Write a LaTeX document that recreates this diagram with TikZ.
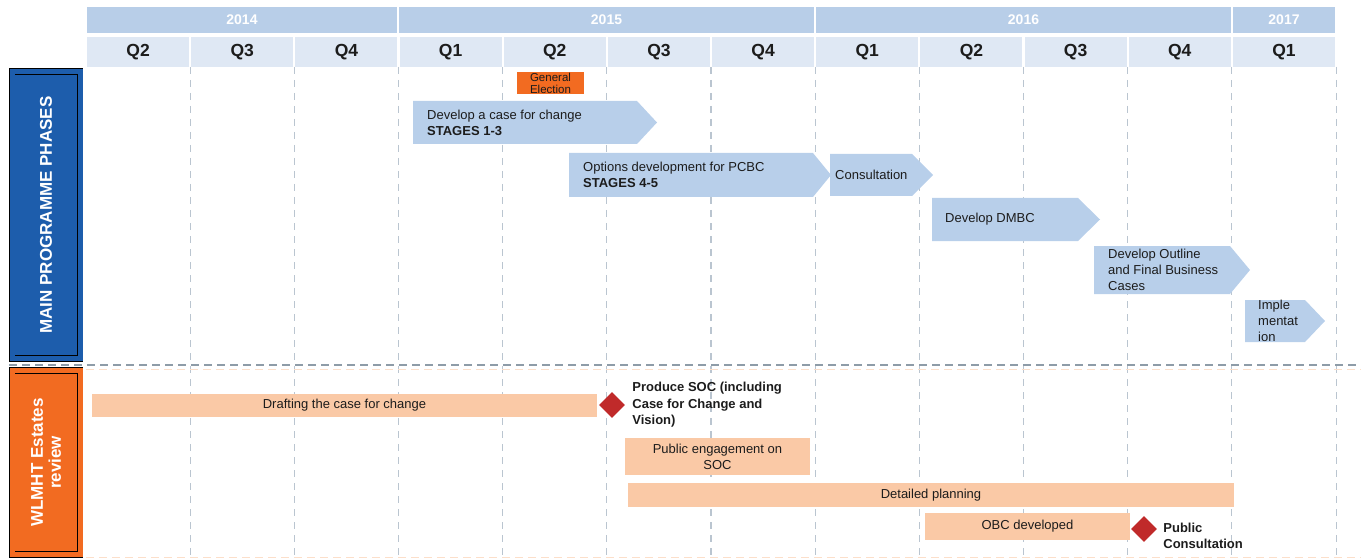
\documentclass[tikz,border=0pt]{standalone}
\usepackage{fontspec}
\setmainfont{Liberation Sans}
\usetikzlibrary{positioning,shapes.geometric}
\definecolor{yearblue}{HTML}{B8CEE8}
\definecolor{quarterblue}{HTML}{DFE8F4}
\definecolor{phaseblue}{HTML}{B8CFEA}
\definecolor{gridgrey}{HTML}{BAC5D0}
\definecolor{sepgrey}{HTML}{8E9CA8}
\definecolor{mainblue}{HTML}{1D5DAC}
\definecolor{estorange}{HTML}{F26B21}
\definecolor{peach}{HTML}{FAC9A6}
\definecolor{msred}{HTML}{C02A2A}
\definecolor{ink}{HTML}{1C1C1C}

\begin{document}
\begin{tikzpicture}[x=1pt,y=-1pt,
    yearcell/.style={fill=yearblue,text=white,minimum height=26pt,inner sep=0pt,
                     font=\fontsize{14}{16}\selectfont\bfseries},
    qcell/.style={fill=quarterblue,text=ink,minimum width=102pt,minimum height=30pt,
                  inner sep=0pt,font=\fontsize{17.5}{20}\selectfont\bfseries},
    gridline/.style={gridgrey,line width=1.1pt,dash pattern=on 7pt off 6pt},
    sidebox/.style={draw=black,line width=0.9pt,double distance=5pt,rotate=90,
                    minimum height=68pt,text=white,align=center,
                    font=\fontsize{17}{18}\selectfont\bfseries},
    phasetext/.style={anchor=west,inner sep=0pt,align=left,text=ink,
                      font=\fontsize{13}{16}\selectfont},
    estbar/.style={fill=peach,text=ink,inner sep=0pt,align=center,
                   font=\fontsize{13}{16}\selectfont},
    milestone/.style={diamond,fill=msred,minimum width=26pt,minimum height=26pt,
                      inner sep=0pt},
    mslabel/.style={inner sep=0pt,align=left,text=ink,
                    font=\fontsize{13}{16.5}\selectfont\bfseries}]
    \useasboundingbox (0,0) rectangle (1361,559);

    % time axis
    \node[yearcell,minimum width=310pt] (y2014) at (242,20) {2014};
    \node[yearcell,minimum width=415pt] (y2015) at (606.5,20) {2015};
    \node[yearcell,minimum width=415pt] (y2016) at (1023.5,20) {2016};
    \node[yearcell,minimum width=102pt] (y2017) at (1284,20) {2017};
    \foreach \q [count=\i from 0] in {Q2,Q3,Q4,Q1,Q2,Q3,Q4,Q1,Q2,Q3,Q4,Q1}
        \node[qcell] (q\i) at ({86+104.17*(\i+0.5)},52) {\q};
    \foreach \i in {1,...,12}
        \draw[gridline] ({86+104.17*\i},67) -- ({86+104.17*\i},555);
    \draw[sepgrey,line width=1.8pt,dash pattern=on 8pt off 5pt] (9,365) -- (1361,365);
    \draw[peach!60,line width=1pt,dash pattern=on 8pt off 5pt] (86,369) -- (1361,369);
    \draw[peach!60,line width=1pt,dash pattern=on 8pt off 5pt] (86,557) -- (1361,557);

    % row labels
    \node[sidebox,fill=mainblue,double=mainblue,minimum width=287pt] (mainlabel)
        at (46,215) {MAIN PROGRAMME PHASES};
    \node[sidebox,fill=estorange,double=estorange,minimum width=184pt] (estlabel)
        at (46,462.5) {WLMHT Estates\\review};

    % main programme phases
    \node[fill=estorange,text=ink,minimum width=67pt,minimum height=22pt,inner sep=0pt,
          align=center,font=\fontsize{11.5}{12}\selectfont] (election)
        at (550.5,83) {General\\Election};
    \fill[phaseblue] (413,101) -- (637,101) -- (657,122.5) -- (637,144) -- (413,144) -- cycle;
    \node[phasetext] (casechange) at (427,123) {Develop a case for change\\\textbf{STAGES 1-3}};
    \fill[phaseblue] (569,153) -- (813,153) -- (831,175) -- (813,197) -- (569,197) -- cycle;
    \node[phasetext] (options) at (583,175) {Options development for PCBC\\\textbf{STAGES 4-5}};
    \fill[phaseblue] (830,154) -- (912,154) -- (933,175) -- (912,196) -- (830,196) -- cycle;
    \node[phasetext] (consult) at (835,175) {Consultation};
    \fill[phaseblue] (932,198) -- (1078,198) -- (1100,219.5) -- (1078,241) -- (932,241) -- cycle;
    \node[phasetext] (dmbc) at (945,219.5) {Develop DMBC};
    \fill[phaseblue] (1094,246) -- (1230,246) -- (1250,270) -- (1230,294) -- (1094,294) -- cycle;
    \node[phasetext] (outline) at (1108,270) {Develop Outline\\and Final Business\\Cases};
    \fill[phaseblue] (1245,300) -- (1305,300) -- (1325,321) -- (1305,342) -- (1245,342) -- cycle;
    \node[phasetext] (implement) at (1258,321) {Imple\\mentat\\ion};

    % estates review
    \node[estbar,minimum width=505pt,minimum height=23pt] (drafting)
        at (344.5,405.5) {Drafting the case for change};
    \node[milestone] (soc) at (612,405) {};
    \node[mslabel,right=7pt of soc] (soclabel) {Produce SOC (including\\Case for Change and\\Vision)};
    \node[estbar,minimum width=185pt,minimum height=37pt] (engage)
        at (717.5,456.5) {Public engagement on\\SOC};
    \node[estbar,minimum width=606pt,minimum height=24pt] (planning)
        at (931,495) {Detailed planning};
    \node[estbar,minimum width=205pt,minimum height=27pt] (obc)
        at (1027.5,526.5) {OBC developed};
    \node[milestone] (pubcons) at (1144,529) {};
    \node[mslabel,right=6pt of pubcons,yshift=-7pt] (pubconslabel) {Public\\Consultation};
\end{tikzpicture}
\end{document}
